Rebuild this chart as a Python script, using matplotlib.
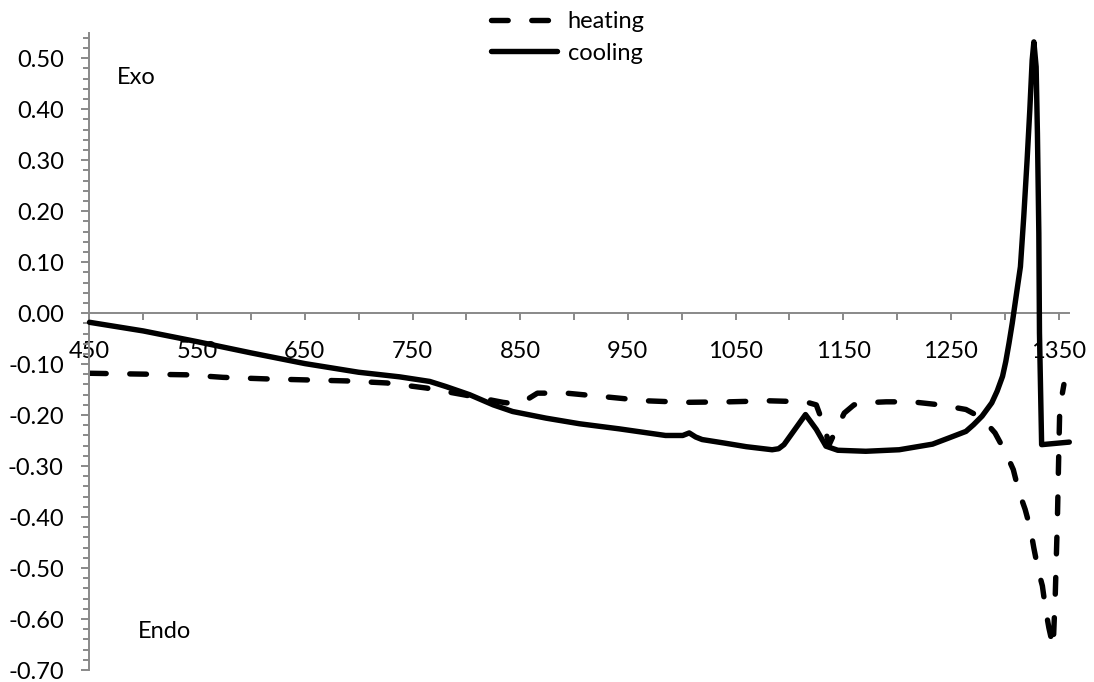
import matplotlib
matplotlib.use("Agg")
import matplotlib.pyplot as plt
from matplotlib.ticker import MultipleLocator, FuncFormatter

# DSC trace, temperature vs heat flow
heating_t = [450, 540, 574, 614, 651, 689, 726, 763, 797, 834, 845, 856, 866,
             893, 933, 967, 1004, 1044, 1081, 1115, 1125, 1132, 1137, 1142,
             1151, 1160, 1168, 1190, 1214, 1240, 1264, 1279, 1291, 1301, 1308,
             1313, 1319, 1324, 1327, 1331, 1335, 1338, 1341, 1345, 1347, 1349,
             1350, 1351, 1352, 1355]
heating_q = [-0.118, -0.121, -0.126, -0.129, -0.131, -0.133, -0.137, -0.147,
             -0.160, -0.175, -0.178, -0.170, -0.157, -0.157, -0.165, -0.172,
             -0.175, -0.174, -0.172, -0.174, -0.180, -0.220, -0.258, -0.235,
             -0.196, -0.180, -0.176, -0.174, -0.174, -0.180, -0.189, -0.206,
             -0.235, -0.274, -0.307, -0.349, -0.385, -0.424, -0.460, -0.503,
             -0.535, -0.581, -0.617, -0.655, -0.55, -0.40, -0.297, -0.200,
             -0.176, -0.140]

cooling_t = [450, 500, 550, 600, 650, 700, 738, 766, 781, 803, 825, 843,
             874, 905, 942, 985, 1001, 1007, 1013, 1019, 1040, 1060, 1084,
             1090, 1095, 1115, 1125, 1134, 1145, 1171, 1202, 1233, 1248, 1264,
             1271, 1279, 1288, 1293, 1298, 1301, 1304, 1307, 1311.5, 1314.6,
             1317.7, 1320.8, 1323.3, 1325.5, 1327.1, 1329.2, 1330.4, 1331.7,
             1332.3, 1334.3, 1360]
cooling_q = [-0.018, -0.035, -0.056, -0.078, -0.099, -0.116, -0.125, -0.134,
             -0.144, -0.160, -0.180, -0.193, -0.206, -0.217, -0.227, -0.240,
             -0.240, -0.235, -0.243, -0.248, -0.255, -0.262, -0.268, -0.266,
             -0.258, -0.199, -0.228, -0.261, -0.269, -0.271, -0.268, -0.257,
             -0.245, -0.232, -0.219, -0.202, -0.176, -0.153, -0.124, -0.095,
             -0.059, -0.020, 0.046, 0.091, 0.189, 0.300, 0.398, 0.496, 0.532,
             0.483, 0.352, 0.157, -0.039, -0.258, -0.253]

plt.rcParams['font.family'] = ['Lato', 'DejaVu Sans']
plt.rcParams['axes.unicode_minus'] = False
plt.rcParams['lines.scale_dashes'] = False

W, H = 1094, 682
fig = plt.figure(figsize=(W / 100, H / 100), dpi=100)
ax = fig.add_axes([89.5 / W, 1 - 670 / H, (1069.3 - 89.5) / W, (670 - 32.7) / H])

lw = 3.9
fs = 17
ax.plot(heating_t, heating_q, color='black', lw=lw, linestyle=(0, (12, 17)),
        dash_capstyle='round', dash_joinstyle='round', label='heating', zorder=3)
ax.plot(cooling_t, cooling_q, color='black', lw=lw, solid_capstyle='round',
        solid_joinstyle='round', label='cooling', zorder=3, clip_on=False)

ax.set_xlim(450, 1360)
ax.set_ylim(-0.70, 0.55)

axis_grey = '#898989'
for side in ['top', 'right']:
    ax.spines[side].set_visible(False)
ax.spines['bottom'].set_position(('data', 0))
ax.spines['left'].set_position(('data', 450))
for side in ['bottom', 'left']:
    ax.spines[side].set_color(axis_grey)
    ax.spines[side].set_linewidth(1.4)

ax.xaxis.set_major_locator(MultipleLocator(50))
ax.xaxis.set_major_formatter(FuncFormatter(
    lambda v, p: f"{v:.0f}" if round(v - 450) % 100 == 0 else ""))
ax.yaxis.set_major_locator(MultipleLocator(0.1))
ax.yaxis.set_minor_locator(MultipleLocator(0.02))
ax.yaxis.set_major_formatter(FuncFormatter(lambda v, p: f"{v:.2f}"))

ax.tick_params(axis='x', direction='out', length=5, width=1.4, color=axis_grey,
               labelsize=fs, pad=15)
ax.tick_params(axis='y', which='major', direction='out', length=6, width=1.4,
               color=axis_grey, labelsize=fs, pad=12.5)
ax.tick_params(axis='y', which='minor', direction='out', length=4, width=1.4,
               color=axis_grey)

ax.text(116.7 / W, 1 - 78 / H, 'Exo', transform=fig.transFigure,
        fontsize=fs, ha='left', va='center')
ax.text(138.3 / W, 1 - 631.7 / H, 'Endo', transform=fig.transFigure,
        fontsize=fs, ha='left', va='center')

fig.legend(loc='upper left', bbox_to_anchor=(491 / W, 1 - 11 / H), frameon=False,
           fontsize=fs, handlelength=2.8, handletextpad=0.45, labelspacing=0.45,
           borderpad=0, borderaxespad=0)

fig.savefig('out.png', dpi=100)
